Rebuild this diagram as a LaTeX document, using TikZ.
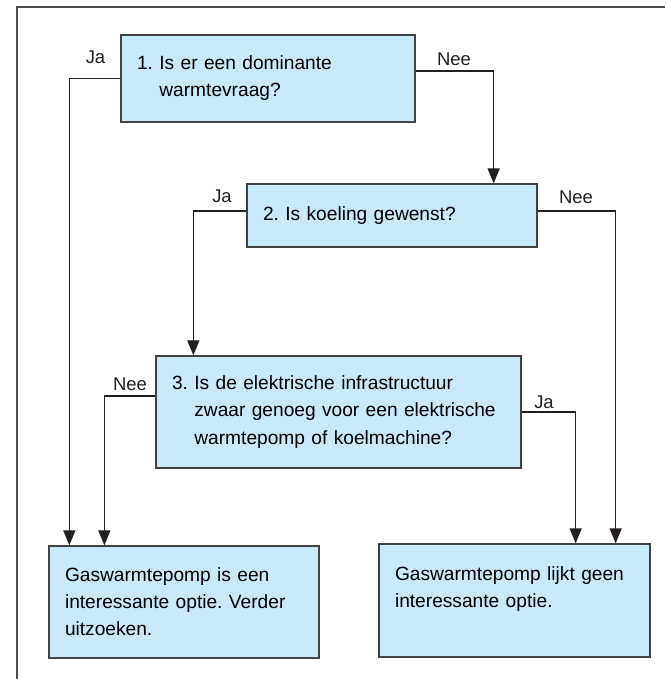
\documentclass[tikz,border=0pt]{standalone}
\usepackage{fontspec}
\setmainfont{Liberation Sans}
\usetikzlibrary{arrows.meta}
\definecolor{vakblauw}{RGB}{200,233,248}
\definecolor{lijn}{RGB}{35,31,32}
\tikzset{fleche/.style={-{Triangle[length=0.3cm,width=0.24cm]},line width=0.75pt,color=lijn}}
\frenchspacing

\begin{document}
\begin{tikzpicture}[
	vak/.style={rectangle,draw=lijn!85,fill=vakblauw,line width=0.75pt,inner xsep=0.32cm,inner ysep=0pt,align=left,font=\fontsize{10.9pt}{15.4pt}\selectfont},
	antw/.style={font=\fontsize{10.5pt}{12pt}\selectfont,inner sep=0pt,color=lijn},
	kader/.style={draw=lijn!80,line width=0.6pt},
	]
	
	\useasboundingbox (0,0) rectangle (13.3,13.58);
	\draw[kader] (13.3,13.44) -- (0.34,13.44) -- (0.34,0);
	
	% de drie vragen
	\node[vak,text width=5.24cm,minimum height=1.74cm] (V1) at (5.36,12.01)
	{1.\ Is er een dominante\\\hphantom{1.\ }warmtevraag?};
	\node[vak,text width=5.16cm,minimum height=1.26cm] (V2) at (7.84,9.27)
	{2.\ Is koeling gewenst?};
	\node[vak,text width=6.66cm,minimum height=2.24cm] (V3) at (6.77,5.34)
	{3.\ Is de elektrische infrastructuur\\\hphantom{3.\ }zwaar genoeg voor een elektrische\\\hphantom{3.\ }warmtepomp of koelmachine?};
	
	% de twee uitkomsten
	\node[vak,text width=4.76cm,minimum height=2.24cm] (A1) at (3.68,1.54)
	{Gaswarmtepomp is een\\interessante optie. Verder\\uitzoeken.};
	\node[vak,text width=4.78cm,minimum height=2.26cm] (A2) at (10.29,1.57)
	{Gaswarmtepomp lijkt geen\\interessante optie.\\\mbox{}};
	
	\draw[fleche] (V1.west) -| ([xshift=0.42cm]A1.north west);
	\draw[fleche] ([yshift=0.15cm]V1.east) -| ([xshift=-0.88cm]V2.north east);
	\draw[fleche] ([yshift=0.09cm]V2.west) -| ([xshift=0.76cm]V3.north west);
	\draw[fleche] ([yshift=0.09cm]V2.east) -| ([xshift=-0.70cm]A2.north east);
	\draw[fleche] ([yshift=0.32cm]V3.west) -| ([xshift=1.12cm]A1.north west);
	\draw[fleche] (V3.east) -| ([xshift=-1.50cm]A2.north east);
	
	\node[antw] (ja1) at (1.91,12.43) {Ja};
	\node[antw] (nee1) at (9.08,12.40) {Nee};
	\node[antw] (ja2) at (4.44,9.65) {Ja};
	\node[antw] (nee2) at (11.52,9.63) {Nee};
	\node[antw] (nee3) at (2.60,5.89) {Nee};
	\node[antw] (ja3) at (10.88,5.54) {Ja};

\end{tikzpicture}
\end{document}
